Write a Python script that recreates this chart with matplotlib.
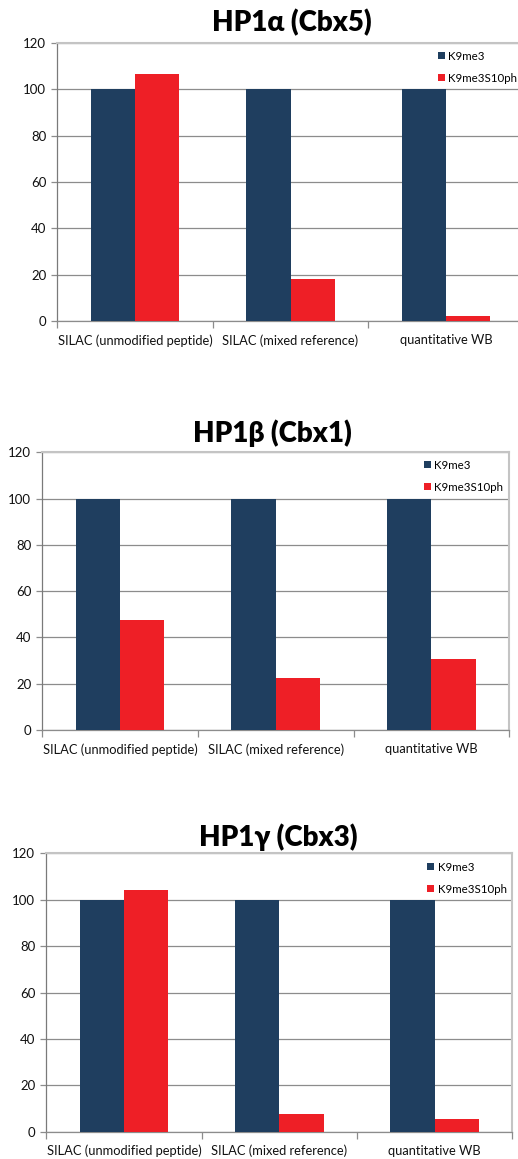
import matplotlib
matplotlib.use("Agg")
import matplotlib.pyplot as plt
from matplotlib.patches import Patch
import numpy as np

plt.rcParams['font.family'] = ['Lato', 'DejaVu Sans']

categories = ["SILAC (unmodified peptide)", "SILAC (mixed reference)", "quantitative WB"]
series_names = ["K9me3", "K9me3S10ph"]
titles = ["HP1\u03b1 (Cbx5)", "HP1\u03b2 (Cbx1)", "HP1\u03b3 (Cbx3)"]

k9me3_a = [100, 100, 100]
k9me3s10ph_a = [106.7, 18.3, 2.2]
k9me3_b = [100, 100, 100]
k9me3s10ph_b = [47.5, 22.5, 30.5]
k9me3_g = [100, 100, 100]
k9me3s10ph_g = [104, 7.6, 5.3]

yticks = [0, 20, 40, 60, 80, 100, 120]

NAVY = "#1F3E5F"
RED = "#EE1F26"
GRID = "#8C8C8C"
FRAME = "#C4C4C4"

W, H = 518, 1159
fig = plt.figure(figsize=(W / 100, H / 100), dpi=100)

# panel geometry in pixels: left, bottom(y of zero line), width, height,
# title centre x/y, legend handle x/y
panels = [
    (57.3, 321.0, 466.5, 278.0, 292.0, 23.0, 438.0, 53.0),
    (42.3, 730.0, 467.0, 277.7, 272.7, 433.0, 424.0, 462.0),
    (46.3, 1131.7, 466.0, 278.4, 278.0, 836.7, 427.7, 864.0),
]
data = [(k9me3_a, k9me3s10ph_a), (k9me3_b, k9me3s10ph_b), (k9me3_g, k9me3s10ph_g)]

bw = 0.285
x = np.arange(len(categories))

for (lx, by, pw, ph, tx, ty, legx, legy), (s1, s2), title in zip(panels, data, titles):
    ax = fig.add_axes([lx / W, 1 - by / H, pw / W, ph / H])
    ax.bar(x - bw / 2, s1, bw, color=NAVY, zorder=3)
    ax.bar(x + bw / 2, s2, bw, color=RED, zorder=3)
    ax.set_xlim(-0.5, 2.5)
    ax.set_ylim(0, 120)
    ax.set_yticks(yticks)
    ax.set_yticklabels([str(v) for v in yticks])
    ax.yaxis.grid(True, color=GRID, lw=0.9, zorder=0)
    ax.set_axisbelow(True)

    ax.set_xticks(x)
    ax.set_xticklabels(categories)
    ax.set_xticks(np.arange(-0.5, 3.0, 1.0), minor=True)
    ax.tick_params(axis='x', which='major', length=0, pad=9.5, labelsize=9.3, labelcolor="#111111")
    ax.tick_params(axis='x', which='minor', length=5, color=GRID, width=0.9)
    ax.tick_params(axis='y', length=4, color=GRID, width=0.9, pad=4, labelsize=9.5, labelcolor="#111111")

    ax.spines['left'].set_color("#7A7A7A")
    ax.spines['left'].set_linewidth(0.9)
    ax.spines['bottom'].set_color(GRID)
    ax.spines['bottom'].set_linewidth(0.9)
    ax.spines['top'].set_color(FRAME)
    ax.spines['top'].set_linewidth(1.5)
    ax.spines['right'].set_color(FRAME)
    ax.spines['right'].set_linewidth(1.5)

    fig.text(tx / W, 1 - ty / H, title, ha='center', va='center',
             fontsize=20, fontweight='heavy', color="#000000")

    handles = [Patch(facecolor=NAVY, label=series_names[0]),
               Patch(facecolor=RED, label=series_names[1])]
    ax.legend(handles=handles, loc='upper left',
              bbox_to_anchor=((legx - 6) / W, 1 - (legy - 8) / H),
              bbox_transform=fig.transFigure, frameon=False,
              fontsize=8.3, handlelength=0.6, handleheight=0.6,
              handletextpad=0.3, labelspacing=0.95, borderpad=0)

fig.savefig("out.png", dpi=100, facecolor="white")
